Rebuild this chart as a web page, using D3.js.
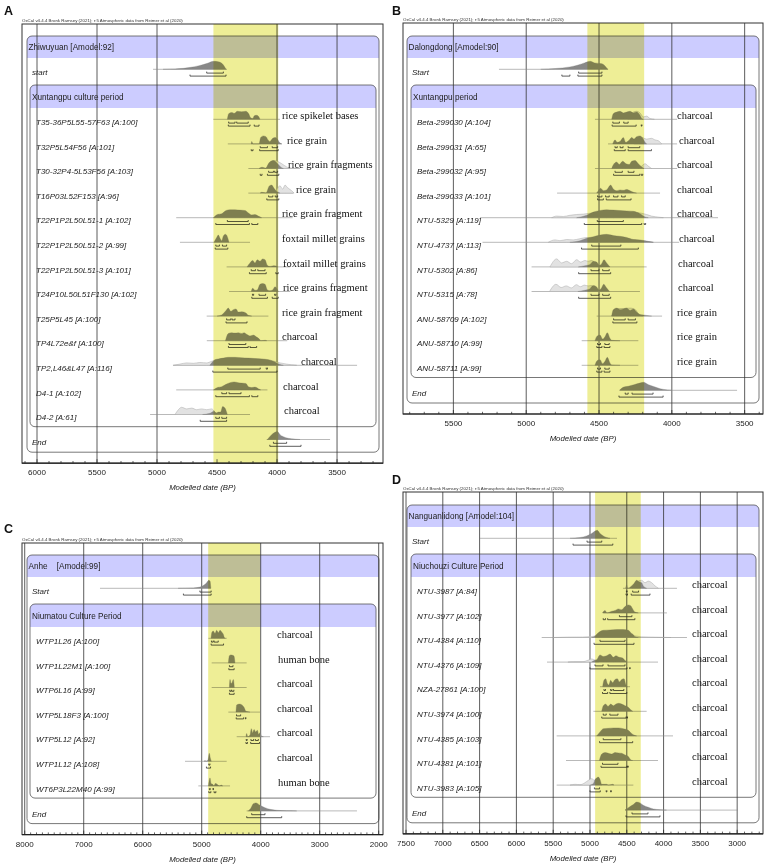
<!DOCTYPE html>
<html><head><meta charset="utf-8">
<script src="https://cdn.jsdelivr.net/npm/d3@7"></script>
<style>body{margin:0;background:#fff}svg{display:block}</style></head>
<body>
<svg id="c" width="767" height="864"></svg>
<script>
// ---------------- DATA ----------------
const caption = "OxCal v4.4.4 Bronk Ramsey (2021); r:5 Atmospheric data from Reimer et al (2020)";
const axisTitle = "Modelled date (BP)";

// Panel A — Zhiwuyuan
const aGroup = ["Zhiwuyuan [Amodel:92]", "Xuntangpu culture period"];
const aLabels = ["start","T35-36P5L55-57F63 [A:100]","T32P5L54F56 [A:101]","T30-32P4-5L53F56 [A:103]","T16P03L52F153 [A:96]","T22P1P2L50L51-1 [A:102]","T22P1P2L50L51-2 [A:99]","T22P1P2L50L51-3 [A:101]","T24P10L50L51F130 [A:102]","T25P5L45 [A:100]","TP4L72e&f [A:100]","TP2,L46&L47 [A:116]","D4-1 [A:102]","D4-2 [A:61]","End"];
const aMaterials = [null,"rice spikelet bases","rice grain","rice grain fragments","rice grain","rice grain fragment","foxtail millet grains","foxtail millet grains","rice grains fragment","rice grain fragment","charcoal","charcoal","charcoal","charcoal",null];
const aTicks = [6000,5500,5000,4500,4000,3500];
const aGrid = [6000,5500,5000,4000,3500];
const aBand = [4530,3990];
const aLines = [[5033,4417],[4531,3975],[4410,3960],[4239,3808],[4239,3864],[4840,3870],[4809,4225],[4420,3892],[4400,3890],[4586,4072],[4585,3915],[4867,3333],[4840,4080],[5058,4225],[4086,3558]];
const aPost = [
 [[4950,0],[4850,0.05],[4780,0.12],[4720,0.25],[4650,0.45],[4580,0.75],[4530,1],[4490,0.95],[4450,0.6],[4425,0]],
 [[4414,0],[4403,0.7],[4378,0.85],[4356,0.75],[4331,1],[4295,0.95],[4259,1],[4236,0.7],[4220,0.2],[4203,0.1],[4189,0.45],[4170,0.5],[4153,0.35],[4142,0]],
 [[4215,0],[4211,0.3],[4200,0],[4150,0],[4136,0.8],[4114,1],[4092,0.9],[4075,0.5],[4059,0.3],[4036,0.7],[4017,0.8],[3997,0.6],[3981,0.2],[3961,0]],
 [[4150,0],[4140,0.1],[4120,0.15],[4092,0.05],[4072,0.6],[4053,0.9],[4031,1],[4008,0.8],[3989,0.5],[3970,0.2],[3947,0]],
 [[4140,0],[4128,0.1],[4092,0.02],[4064,0.9],[4045,1],[4025,0.6],[4008,0.3],[3989,0.1],[3975,0]],
 [[4530,0],[4497,0.4],[4461,0.5],[4425,0.9],[4392,1],[4350,1],[4309,0.95],[4267,0.9],[4239,0.6],[4211,0.35],[4184,0.4],[4156,0.2],[4128,0]],
 [[4525,0],[4503,0.6],[4489,0.9],[4475,0.5],[4461,0.2],[4447,0.8],[4431,1],[4414,0.7],[4400,0]],
 [[4250,0],[4225,0.5],[4203,0.8],[4184,0.5],[4164,0.9],[4142,0.7],[4120,1],[4100,0.9],[4081,0.2],[4059,0.05],[4031,0.15],[4008,0.1],[3995,0]],
 [[4215,0],[4203,0.4],[4184,0.15],[4164,0.2],[4142,0.9],[4120,1],[4100,0.9],[4081,0.2],[4059,0.1],[4036,0.2],[4017,0.6],[4003,0.4],[3989,0]],
 [[4500,0],[4461,0.15],[4425,0.7],[4406,1],[4386,0.6],[4364,0.8],[4342,0.9],[4322,0.5],[4295,0.55],[4259,0.4],[4239,0.1],[4211,0]],
 [[4430,0],[4406,0.9],[4378,1],[4350,0.95],[4322,1],[4295,0.9],[4275,1],[4253,0.8],[4225,0.6],[4197,0.7],[4170,0.45],[4147,0.2],[4136,0],[4100,0.05],[4085,0]],
 [[4560,0],[4517,0.7],[4489,0.8],[4447,0.9],[4406,1],[4350,1],[4295,0.95],[4239,0.9],[4184,0.85],[4128,0.8],[4072,0.7],[4031,0.5],[4003,0.3],[3975,0.1],[3947,0]],
 [[4530,0],[4497,0.3],[4461,0.4],[4425,0.7],[4392,0.9],[4358,1],[4322,0.9],[4295,0.85],[4259,0.8],[4239,0.4],[4211,0.3],[4184,0.35],[4156,0.15],[4136,0]],
 [[4620,0],[4558,0.15],[4525,0.4],[4508,0.2],[4489,0.3],[4470,0.3],[4453,1],[4434,0.8],[4414,0]],
 [[4080,0],[4045,0.6],[4017,0.9],[3997,1],[3975,0.6],[3947,0.35],[3906,0.15],[3850,0.05],[3808,0]]
];
const aPrior = [null,null,null,
 [[4092,0],[4053,0.8],[4025,1],[3997,0.9],[3961,0.6],[3920,0.2],[3892,0]],
 [[4017,0],[3975,0.9],[3953,0.5],[3933,1],[3914,0.7],[3878,0.3],[3858,0]],
 null,null,null,null,null,null,
 [[4864,0],[4809,0.15],[4753,0.3],[4697,0.25],[4642,0.35],[4586,0.3],[4545,0.5],[4500,0.7],[4400,0.8],[4200,0.8],[4050,0.6],[3975,0.3],[3920,0.15],[3836,0]],
 null,
 [[4850,0],[4822,0.6],[4795,0.9],[4753,0.7],[4711,0.8],[4670,0.6],[4628,0.7],[4586,0.6],[4545,0.7],[4517,0.3],[4503,0]],
 null];
const aR68 = [[[4586,4447]],[[4403,4350],[4336,4240]],[[4140,4080],[4040,3995]],[[4070,4030],[4020,3995]],[[4070,4035],[4015,3995]],[[4414,4240]],[[4510,4480],[4455,4420]],[[4215,4180],[4160,4100]],[[4205,4195],[4150,4095],[4020,4010]],[[4420,4385],[4375,4350]],[[4400,4260]],[[4410,4140],[4090,4080]],[[4460,4420],[4400,4300]],[[4510,4480],[4460,4420]],[[4030,3920]]];
const aR95 = [[[4725,4425]],[[4406,4225],[4190,4150]],[[4215,4200],[4145,3990]],[[4140,4125],[4080,3985]],[[4085,3985]],[[4510,4230],[4210,4160]],[[4515,4410]],[[4230,4090],[4010,3990]],[[4210,4080],[4040,3990]],[[4425,4250]],[[4405,4240],[4225,4170]],[[4535,4000]],[[4510,4230],[4210,4160]],[[4640,4420]],[[4060,3800]]];

// Panel B — Dalongdong
const bGroup = ["Dalongdong [Amodel:90]", "Xuntangpu period"];
const bLabels = ["Start","Beta-299030 [A:104]","Beta-299031 [A:65]","Beta-299032 [A:95]","Beta-299033 [A:101]","NTU-5329 [A:119]","NTU-4737 [A:113]","NTU-5302 [A:86]","NTU-5315 [A:78]","ANU-58709 [A:102]","ANU-58710 [A:99]","ANU-58711 [A:99]","End"];
const bMaterials = [null,"charcoal","charcoal","charcoal","charcoal","charcoal","charcoal","charcoal","charcoal","rice grain","rice grain","rice grain",null];
const bTicks = [5500,5000,4500,4000,3500];
const bGrid = [5500,5000,4500,4000,3500];
const bBand = [4580,4190];
const bLines = [[5187,4438],[4528,3964],[4438,3964],[4528,3964],[4788,4081],[5317,3683],[5300,3950],[4963,4173],[4963,4219],[4516,4067],[4619,4230],[4619,4230],[4356,3552]];
const bPost = [
 [[4900,0],[4800,0.1],[4700,0.3],[4650,0.5],[4600,0.8],[4560,1],[4530,0.8],[4480,0.7],[4440,0]],
 [[4413,0],[4402,0.7],[4379,0.9],[4356,1],[4333,0.8],[4310,0.9],[4287,1],[4264,0.8],[4242,0.9],[4219,0.5],[4207,0.1],[4196,0]],
 [[4406,0],[4390,0.5],[4375,0.2],[4356,0.3],[4333,0.8],[4317,0.2],[4292,0.5],[4276,0.8],[4260,0.6],[4242,0.9],[4219,1],[4200,0.7],[4184,0.2],[4173,0]],
 [[4413,0],[4397,0.6],[4379,0.8],[4361,0.5],[4338,0.9],[4315,0.6],[4292,0.5],[4276,0.9],[4253,1],[4230,0.6],[4207,0.2],[4191,0]],
 [[4516,0],[4505,0.3],[4489,0.6],[4470,0.3],[4448,0.4],[4420,1],[4402,0.5],[4379,0.3],[4356,0.4],[4333,0.35],[4310,0.45],[4287,0.3],[4264,0.1],[4242,0]],
 [[4654,0],[4585,0.3],[4539,0.7],[4493,0.9],[4448,1],[4402,0.95],[4356,0.9],[4310,0.85],[4264,0.8],[4219,0.5],[4184,0.1],[4162,0]],
 [[4700,0],[4631,0.2],[4585,0.5],[4539,0.7],[4493,0.9],[4448,1],[4402,0.85],[4356,0.75],[4310,0.6],[4264,0.35],[4219,0.3],[4173,0.15],[4127,0]],
 [[4642,0],[4597,0.15],[4562,0.3],[4539,0.7],[4516,0.6],[4498,0.2],[4482,0.4],[4466,0.9],[4448,0.5],[4425,0]],
 [[4645,0],[4600,0.15],[4565,0.3],[4540,0.75],[4518,0.6],[4500,0.2],[4484,0.4],[4468,0.9],[4450,0.5],[4428,0]],
 [[4413,0],[4402,0.8],[4379,1],[4356,0.8],[4333,0.9],[4310,1],[4287,0.7],[4264,0.9],[4242,0.5],[4219,0.2],[4196,0.15],[4162,0.05],[4139,0]],
 [[4528,0],[4512,0.6],[4493,0.7],[4475,0.2],[4459,0.5],[4443,1],[4425,0.3],[4413,0.05],[4356,0]],
 [[4528,0],[4512,0.6],[4493,0.7],[4475,0.2],[4459,0.5],[4443,1],[4425,0.3],[4413,0.05],[4356,0]],
 [[4360,0],[4330,0.4],[4300,0.5],[4260,0.7],[4220,0.9],[4195,1],[4160,0.7],[4120,0.45],[4080,0.2],[4030,0.05],[4000,0]]
];
const bPrior = [null,
 [[4300,0],[4264,0.9],[4242,1],[4219,0.8],[4196,0.3],[4173,0.4],[4150,0.1],[4120,0]],
 [[4260,0],[4219,0.9],[4173,0.6],[4139,0.7],[4116,0.5],[4093,0.4],[4070,0]],
 [[4230,0],[4207,0.3],[4184,0.6],[4162,0.3],[4139,0]],
 null,
 [[4825,0],[4791,0.2],[4745,0.15],[4700,0.3],[4654,0.4],[4608,0.45],[4540,0.6],[4400,0.7],[4250,0.65],[4173,0.4],[4139,0.2],[4081,0.05],[4058,0]],
 [[4848,0],[4802,0.3],[4768,0.2],[4722,0.35],[4677,0.3],[4631,0.45],[4585,0.6],[4539,0.55],[4493,0.6],[4400,0.55],[4300,0.4],[4200,0.2],[4127,0]],
 [[4837,0],[4791,1],[4757,0.5],[4722,0.7],[4688,0.4],[4654,0.9],[4626,0.6],[4597,0.8],[4574,0.7],[4551,0.8],[4528,0.5],[4505,0.2],[4482,0]],
 [[4840,0],[4795,0.9],[4760,0.5],[4725,0.7],[4690,0.45],[4655,0.85],[4628,0.6],[4600,0.8],[4575,0.7],[4552,0.75],[4530,0.5],[4505,0.2],[4482,0]],
 [[4413,0],[4379,0.95],[4333,0.95],[4287,1],[4250,0.8],[4230,0.3],[4200,0]],
 null,null,null];
const bR68 = [[[4640,4480]],[[4405,4360],[4330,4300]],[[4390,4375],[4355,4335],[4300,4220]],[[4390,4340],[4300,4260]],[[4510,4480],[4455,4430],[4400,4370],[4345,4320]],[[4512,4333]],[[4550,4350]],[[4555,4500],[4475,4430]],[[4555,4500],[4475,4430]],[[4400,4320],[4300,4250]],[[4510,4490],[4460,4430]],[[4510,4490],[4460,4430]],[[4320,4300],[4273,4129]]];
const bR95 = [[[4755,4700],[4645,4480]],[[4410,4245],[4210,4205]],[[4395,4320],[4300,4140]],[[4400,4220],[4210,4200]],[[4510,4470],[4450,4280]],[[4601,4207],[4190,4180]],[[4620,4230]],[[4640,4420]],[[4640,4420]],[[4405,4240]],[[4515,4480],[4465,4425]],[[4515,4480],[4465,4425]],[[4363,4060]]];

// Panel C — Anhe
const cGroup = ["Anhe    [Amodel:99]", "Niumatou Culture Period"];
const cLabels = ["Start","WTP1L26 [A:100]","WTP1L22M1 [A:100]","WTP6L16 [A:99]","WTP5L18F3 [A:100]","WTP5L12 [A:92]","WTP1L12 [A:108]","WT6P3L22M40 [A:99]","End"];
const cMaterials = [null,"charcoal","human bone","charcoal","charcoal","charcoal","charcoal","human bone",null];
const cTicks = [8000,7000,6000,5000,4000,3000,2000];
const cGrid = [8000,7000,6000,5000,4000,3000,2000];
const cBand = [4890,4010];
const cLines = [[6724,4848],[4887,4577],[4831,4238],[4831,4238],[4548,4012],[4407,3842],[5283,4577],[5057,4520],[4238,2368]];
const cPost = [
 [[5400,0],[5142,0.05],[5029,0.15],[4961,0.4],[4916,0.7],[4882,1],[4859,0.9],[4845,0]],
 [[4842,0],[4825,0.8],[4803,0.9],[4775,0.6],[4746,1],[4718,0.7],[4690,1],[4662,0.8],[4634,0.5],[4617,0.1],[4600,0]],
 [[4548,0],[4531,0.9],[4509,1],[4475,0.95],[4453,0.85],[4436,0]],
 [[4531,0],[4520,1],[4503,0.5],[4486,0.6],[4464,1],[4447,0]],
 [[4419,0],[4407,0.9],[4362,1],[4317,0.9],[4283,0.6],[4250,0.1],[4210,0.05],[4181,0]],
 [[4249,0],[4238,0.4],[4221,0],[4181,0.2],[4159,1],[4136,0.5],[4113,0.9],[4085,0.6],[4057,0.8],[4034,0.3],[4012,0.5],[3989,0.1],[3955,0]],
 [[4961,0],[4944,0.1],[4927,0],[4893,0.2],[4871,1],[4854,0.4],[4837,0]],
 [[4887,0],[4859,1],[4842,0.3],[4814,0.2],[4792,0],[4770,0.3],[4746,0.25],[4724,0.1],[4702,0],[4668,0.1],[4645,0]],
 [[4210,0],[4170,0.3],[4125,0.9],[4080,1],[4012,0.7],[3927,0.4],[3842,0.2],[3730,0.08],[3560,0.02],[3390,0]]
];
const cPrior = [null,null,null,null,null,null,null,null,null];
const cR68 = [[[5030,4840]],[[4835,4805],[4790,4720]],[[4530,4470]],[[4525,4500],[4490,4455]],[[4410,4340]],[[4245,4230],[4165,4120],[4090,4040]],[[4880,4860]],[[4870,4855],[4810,4800]],[[4153,3927]]];
const cR95 = [[[5310,4840]],[[4840,4630]],[[4540,4450]],[[4530,4450]],[[4415,4290],[4260,4250]],[[4250,4225],[4170,4020]],[[4920,4850]],[[4880,4845],[4790,4760]],[[4237,3644]]];

// Panel D — Nanguanlidong
const dGroup = ["Nanguanlidong [Amodel:104]", "Niuchouzi Culture Period"];
const dLabels = ["Start","NTU-3987 [A:84]","NTU-3977 [A:102]","NTU-4384 [A:110]","NTU-4376 [A:109]","NZA-27861 [A:100]","NTU-3974 [A:100]","NTU-4385 [A:103]","NTU-4381 [A:101]","NTU-3983 [A:105]","End"];
const dMaterials = [null,"charcoal","charcoal","charcoal","charcoal","charcoal","charcoal","charcoal","charcoal","charcoal",null];
const dTicks = [7500,7000,6500,6000,5500,5000,4500,4000,3500,3000];
const dGrid = [7500,7000,6500,6000,5500,5000,4500,4000,3500,3000];
const dBand = [4930,4310];
const dLines = [[6495,4633],[4552,3818],[4819,3954],[5656,3682],[5584,4076],[4864,4456],[4954,4230],[5453,3872],[5326,4076],[5453,4411],[4524,2989]];
const dPost = [
 [[5271,0],[5136,0.1],[5045,0.3],[4977,0.6],[4932,0.9],[4900,1],[4864,0.6],[4819,0.3],[4773,0.1],[4728,0]],
 [[4515,0],[4501,0.4],[4490,0],[4434,0.3],[4402,0.6],[4366,1],[4330,0.8],[4298,0.7],[4275,0.3],[4252,0.1],[4230,0]],
 [[4830,0],[4796,0.3],[4770,0],[4705,0.2],[4660,0.3],[4615,0.5],[4569,0.4],[4524,0.8],[4479,1],[4447,0.9],[4420,0.5],[4388,0.1],[4343,0]],
 [[4977,0],[4932,0.2],[4887,0.6],[4819,0.9],[4728,0.95],[4637,1],[4547,1],[4479,0.9],[4434,0.5],[4411,0.35],[4388,0.1],[4343,0]],
 [[4977,0],[4945,0.2],[4909,0.3],[4864,0.9],[4819,0.7],[4773,0.8],[4728,1],[4683,0.6],[4647,0.8],[4601,0.6],[4556,0.5],[4524,0.2],[4501,0]],
 [[4828,0],[4810,0.8],[4787,1],[4764,0.4],[4746,0.2],[4719,0.8],[4692,0.5],[4660,0.9],[4628,1],[4601,0.6],[4569,0.9],[4538,1],[4510,0.2],[4492,0]],
 [[4841,0],[4819,0.7],[4787,0.9],[4755,0.6],[4719,0.9],[4683,0.7],[4647,0.9],[4610,1],[4569,0.9],[4524,0.7],[4479,0.5],[4447,0.2],[4420,0]],
 [[4909,0],[4864,0.5],[4819,0.9],[4750,0.95],[4683,1],[4615,1],[4547,0.9],[4479,0.7],[4434,0.3],[4402,0.1],[4366,0]],
 [[4873,0],[4841,0.8],[4796,1],[4750,0.9],[4705,0.8],[4660,1],[4615,0.95],[4569,0.9],[4524,0.7],[4479,0.5],[4447,0.1],[4420,0]],
 [[4999,0],[4954,0.2],[4932,0.7],[4909,0.9],[4887,1],[4864,0.7],[4841,0.1],[4773,0.1],[4750,0],[4692,0.1],[4674,0]],
 [[4524,0],[4479,0.3],[4411,0.7],[4366,1],[4320,0.9],[4275,0.6],[4207,0.35],[4139,0.15],[4049,0.05],[3960,0]]
];
const dPrior = [null,
 [[4430,0],[4411,0.3],[4343,0.9],[4298,1],[4252,0.7],[4207,0.9],[4162,0.7],[4116,0.3],[4071,0]],
 null,
 [[5500,0],[5300,0.05],[5100,0.06],[4980,0.12],[4900,0.2],[4400,0.2],[4300,0.08],[4100,0.04],[3900,0]],
 [[5300,0],[5226,0.05],[5100,0.05],[5068,0.1],[5022,0.25],[4977,0.4],[4932,0.25],[4900,0.2],[4880,0]],
 null,null,null,null,
 [[5271,0],[5204,0.1],[5136,0.05],[5068,0.3],[5022,0.6],[4977,0.8],[4932,0.5],[4887,0.3],[4841,0]],
 null];
const dR68 = [[[5040,4840]],[[4505,4495],[4420,4340]],[[4600,4430]],[[4864,4524]],[[4932,4823],[4755,4524]],[[4810,4790],[4720,4700],[4680,4540]],[[4820,4780],[4730,4620]],[[4820,4580]],[[4830,4620]],[[4940,4870]],[[4429,4212]]];
const dR95 = [[[5230,4690]],[[4510,4490],[4440,4185]],[[4820,4790],[4760,4390]],[[4945,4402]],[[5000,4497],[4460,4455]],[[4830,4760],[4730,4500]],[[4840,4510],[4500,4490]],[[4870,4420]],[[4850,4500],[4490,4480]],[[5000,4860],[4780,4770],[4720,4710]],[[4511,4049]]];

// ---------------- LAYOUT ----------------
const SANS = '"Liberation Sans", Arial, Helvetica, sans-serif';
const SERIF = '"Liberation Serif", "Times New Roman", serif';
const panels = [
 {letter:"A", lx:4, ly:15, capY:21.5, frame:[22,383,24], domain:[6125,3117], hdrTop:36, box:[27,379,30,376], major:500,
  group:aGroup, labels:aLabels, materials:aMaterials, ticks:aTicks, grid:aGrid, band:aBand, lines:aLines, post:aPost, prior:aPrior, r68:aR68, r95:aR95,
  matX:[0,282,287,288,296,282,282,283,283,282,282,301,283,284,0]},
 {letter:"B", lx:392, ly:15, capY:20.5, frame:[403,763,23], domain:[5846,3374], hdrTop:36, box:[407,759,411,756], major:500,
  group:bGroup, labels:bLabels, materials:bMaterials, ticks:bTicks, grid:bGrid, band:bBand, lines:bLines, post:bPost, prior:bPrior, r68:bR68, r95:bR95,
  matX:[0,677,679,677,677,677,679,678,678,677,677,677,0]},
 {letter:"C", lx:4, ly:533, capY:540.5, frame:[22,383,543], domain:[8046,1927], hdrTop:555, box:[27,379,30,376], major:1000,
  group:cGroup, labels:cLabels, materials:cMaterials, ticks:cTicks, grid:cGrid, band:cBand, lines:cLines, post:cPost, prior:cPrior, r68:cR68, r95:cR95,
  matX:[0,277,278,277,277,277,277,278,0]},
 {letter:"D", lx:392, ly:484, capY:490, frame:[403,763,492], domain:[7541,2649], hdrTop:505, box:[407,759,411,756], major:500,
  group:dGroup, labels:dLabels, materials:dMaterials, ticks:dTicks, grid:dGrid, band:dBand, lines:dLines, post:dPost, prior:dPrior, r68:dR68, r95:dR95,
  matX:[0,692,692,692,692,692,692,692,692,692,0]}
];

const svg = d3.select("#c");

function roundTopPath(x0,x1,y0,y1,r){
  return `M${x0},${y1}V${y0+r}Q${x0},${y0} ${x0+r},${y0}H${x1-r}Q${x1},${y0} ${x1},${y0+r}V${y1}Z`;
}

function drawPanel(P){
  const g = svg.append("g");
  const [fx0, fx1, fy0] = P.frame;
  const x = d3.scaleLinear().domain(P.domain).range([fx0, fx1]);
  const n = P.labels.length, rowsN = n - 2;
  const hdrH = 22;
  const startY = P.hdrTop + hdrH + 14;
  const innerTop = startY + 13;
  const innerHdrB = innerTop + 23;
  const rowY = i => innerHdrB + 14 + i * 24.6;
  const lastY = rowY(rowsN - 1);
  const innerBot = lastY + 9.5;
  const endY = innerBot + 15.5;
  const outerBot = endY + 10;
  const axisY = outerBot + 11;
  const yOf = i => i === 0 ? startY : (i === n - 1 ? endY : rowY(i - 1));
  const [ox0, ox1, ix0, ix1] = P.box;

  // letter + caption
  svg.append("text").attr("x", P.lx).attr("y", P.ly).text(P.letter)
    .attr("font-family", SANS).attr("font-weight", "bold").attr("font-size", 12.5).attr("fill", "#111");
  svg.append("text").attr("x", fx0).attr("y", P.capY).text(caption)
    .attr("font-family", SANS).attr("font-size", 4.4).attr("fill", "#333");

  // frame
  g.append("rect").attr("x", fx0).attr("y", fy0).attr("width", fx1 - fx0).attr("height", axisY - fy0)
    .attr("fill", "#fff").attr("stroke", "#333").attr("stroke-width", 1);

  // group boxes
  g.append("path").attr("d", roundTopPath(ox0, ox1, P.hdrTop, P.hdrTop + hdrH, 5)).attr("fill", "#ccccff");
  g.append("rect").attr("x", ox0).attr("y", P.hdrTop).attr("width", ox1 - ox0).attr("height", outerBot - P.hdrTop)
    .attr("rx", 5).attr("fill", "none").attr("stroke", "#555").attr("stroke-width", 0.8);
  g.append("path").attr("d", roundTopPath(ix0, ix1, innerTop, innerHdrB, 5)).attr("fill", "#ccccff");
  g.append("rect").attr("x", ix0).attr("y", innerTop).attr("width", ix1 - ix0).attr("height", innerBot - innerTop)
    .attr("rx", 5).attr("fill", "none").attr("stroke", "#555").attr("stroke-width", 0.8);

  // gridlines
  g.selectAll("line.grid").data(P.grid).join("line").attr("class", "grid")
    .attr("x1", d => x(d)).attr("x2", d => x(d)).attr("y1", fy0).attr("y2", axisY)
    .attr("stroke", "#333").attr("stroke-width", 0.8);

  // distributions
  const H = 8;
  P.labels.forEach((lab, i) => {
    const base = yOf(i) - 2.7;
    const area = d3.area().x(d => x(d[0])).y0(base).y1(d => base - d[1] * H).curve(d3.curveMonotoneX);
    const ln = P.lines[i];
    g.append("line").attr("x1", x(ln[0])).attr("x2", x(ln[1])).attr("y1", base).attr("y2", base)
      .attr("stroke", "#8a8a8a").attr("stroke-width", 0.6);
    if (P.prior[i]) {
      g.append("path").attr("d", area(P.prior[i])).attr("fill", "#e2e2e2").attr("stroke", "#a8a8a8").attr("stroke-width", 0.5);
    }
    g.append("path").attr("d", area(P.post[i])).attr("fill", "#888888").attr("stroke", "#7a7a7a").attr("stroke-width", 0.3);
    const bracket = (ranges, yy) => ranges.forEach(r => {
      const a = x(r[0]), b = x(r[1]);
      g.append("path").attr("d", `M${a},${yy - 1.5}V${yy}H${b}V${yy - 1.5}`)
        .attr("fill", "none").attr("stroke", "#333").attr("stroke-width", 0.8);
    });
    bracket(P.r68[i], base + 3.8);
    bracket(P.r95[i], base + 6.8);
  });

  // highlight band (multiply)
  g.append("rect").attr("x", x(P.band[0])).attr("width", x(P.band[1]) - x(P.band[0]))
    .attr("y", fy0).attr("height", axisY - fy0)
    .attr("fill", "#eeee96").style("mix-blend-mode", "multiply");

  // texts
  const t = g.append("g").attr("fill", "#222");
  t.append("text").attr("x", ox0 + 1.5).attr("y", P.hdrTop + 14).text(P.group[0])
    .attr("font-family", SANS).attr("font-size", 8.2).attr("xml:space", "preserve").style("white-space", "pre");
  t.append("text").attr("x", ix0 + 2).attr("y", innerTop + 14.5).text(P.group[1])
    .attr("font-family", SANS).attr("font-size", 8.2);
  P.labels.forEach((lab, i) => {
    const lx = (i === 0 || i === n - 1) ? ox0 + 5 : ix0 + 6;
    t.append("text").attr("x", lx).attr("y", yOf(i) + 3).text(lab)
      .attr("font-family", SANS).attr("font-style", "italic").attr("font-size", 8);
    if (P.materials[i]) {
      t.append("text").attr("x", P.matX[i]).attr("y", yOf(i) - 3).text(P.materials[i])
        .attr("font-family", SERIF).attr("font-size", 10.5).attr("fill", "#111");
    }
  });

  // axis
  const ax = g.append("g");
  ax.append("line").attr("x1", fx0).attr("x2", fx1).attr("y1", axisY).attr("y2", axisY)
    .attr("stroke", "#222").attr("stroke-width", 1.2);
  const lo = Math.ceil(Math.min(...P.domain) / 100) * 100, hi = Math.floor(Math.max(...P.domain) / 100) * 100;
  const minor = d3.range(lo, hi + 1, 100);
  ax.selectAll("line.tk").data(minor).join("line").attr("class", "tk")
    .attr("x1", d => x(d)).attr("x2", d => x(d))
    .attr("y1", axisY).attr("y2", d => axisY - (d % P.major === 0 ? 4 : 2.2))
    .attr("stroke", "#222").attr("stroke-width", 0.7);
  ax.selectAll("text").data(P.ticks).join("text")
    .attr("x", d => x(d)).attr("y", axisY + 12).attr("text-anchor", "middle").text(d => d)
    .attr("font-family", SANS).attr("font-size", 8).attr("fill", "#222");
  ax.append("text").attr("x", (fx0 + fx1) / 2).attr("y", axisY + 27).attr("text-anchor", "middle")
    .text(axisTitle).attr("font-family", SANS).attr("font-style", "italic").attr("font-size", 7.8).attr("fill", "#222");
}

panels.forEach(drawPanel);
</script>
</body></html>
